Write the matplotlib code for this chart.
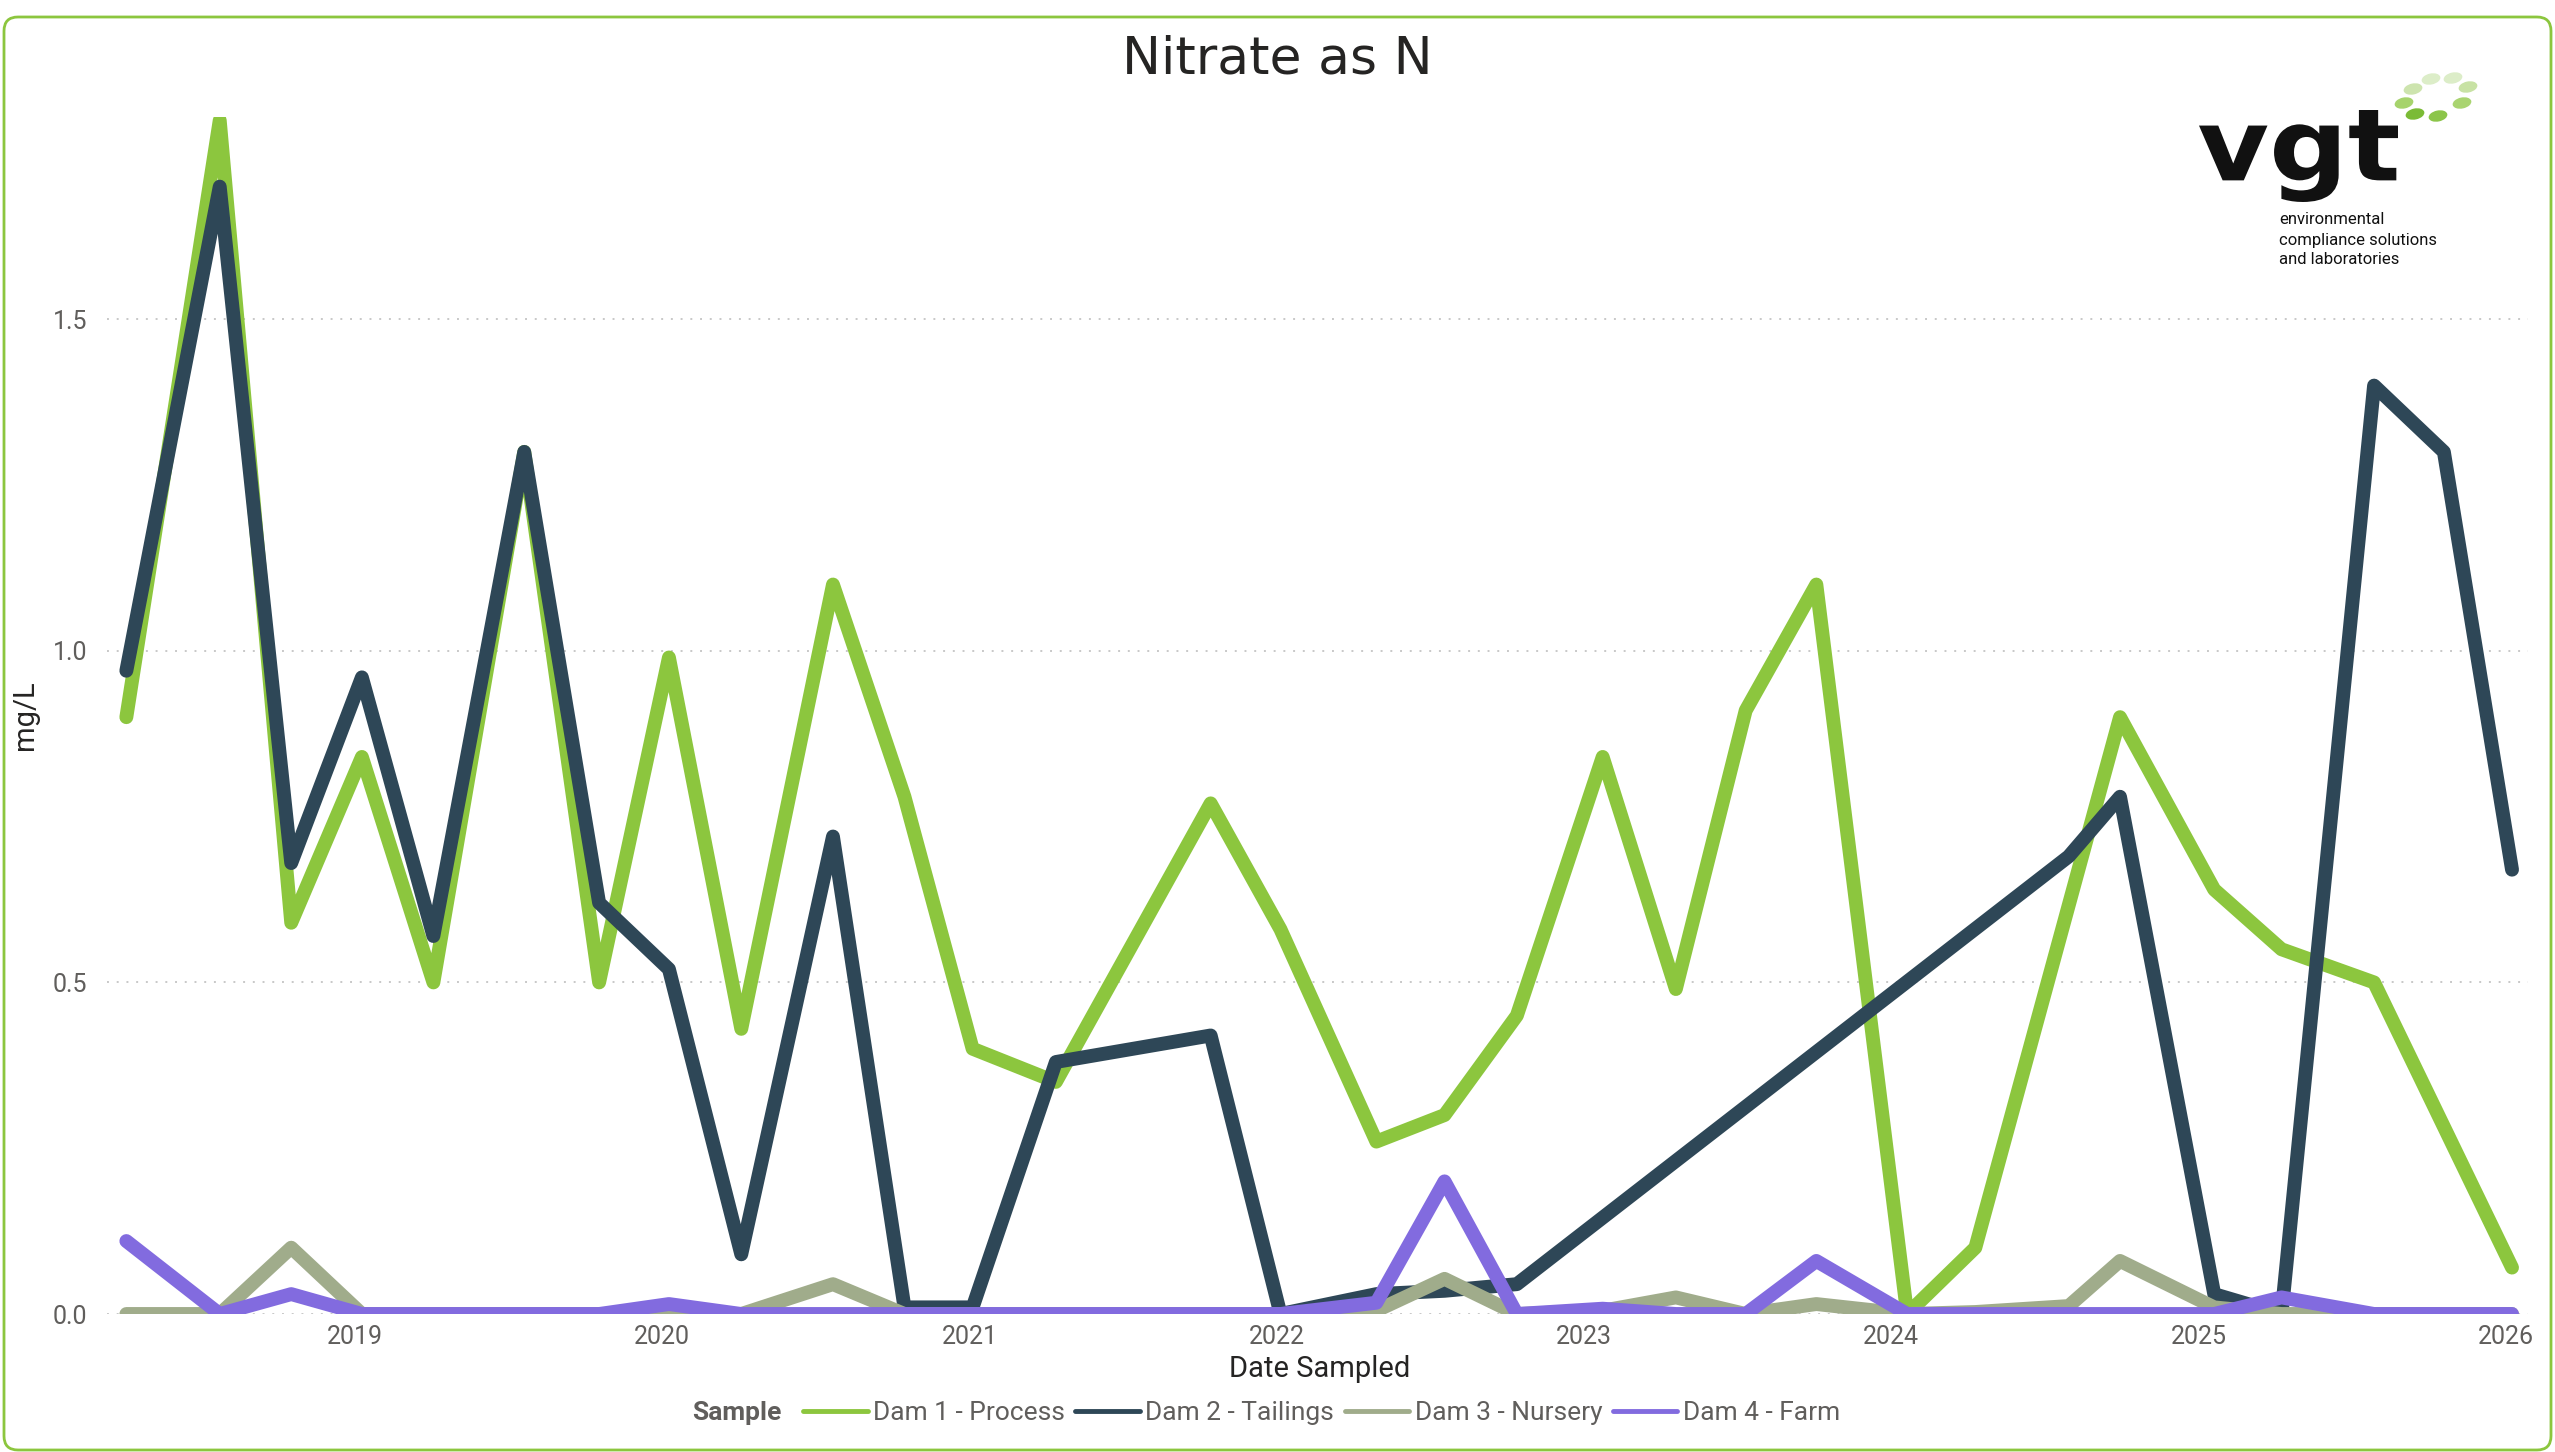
"""
Nitrate as N - dam sampling chart (recreated)
"""

import matplotlib
matplotlib.use('Agg')
import matplotlib.pyplot as plt
import matplotlib.dates as mdates
import pandas as pd
from matplotlib.patches import FancyBboxPatch, Ellipse, PathPatch
from matplotlib.textpath import TextPath
from matplotlib.transforms import Affine2D
from matplotlib.font_manager import FontProperties

# data
dam1_dates = ['2018-04-04', '2018-07-24', '2018-10-17', '2019-01-09', '2019-04-04', '2019-07-21',
              '2019-10-18', '2020-01-09', '2020-04-04', '2020-07-22', '2020-10-15', '2021-01-04',
              '2021-04-13', '2021-10-14', '2022-01-05', '2022-04-29', '2022-07-19', '2022-10-13',
              '2023-01-23', '2023-04-20', '2023-07-12', '2023-10-04', '2024-01-20', '2024-04-10',
              '2024-09-29', '2025-01-19', '2025-04-09', '2025-07-28', '2026-01-08']
dam1_vals = [0.90, 1.80, 0.59, 0.84, 0.50, 1.30, 0.50, 0.99, 0.43, 1.10, 0.78, 0.40,
             0.35, 0.77, 0.58, 0.26, 0.30, 0.45, 0.84, 0.49, 0.91, 1.10, 0.00, 0.10,
             0.90, 0.64, 0.55, 0.50, 0.07]

dam2_dates = ['2018-04-04', '2018-07-24', '2018-10-17', '2019-01-09', '2019-04-04', '2019-07-21',
              '2019-10-18', '2020-01-09', '2020-04-04', '2020-07-22', '2020-10-15', '2021-01-04',
              '2021-04-13', '2021-10-14', '2022-01-05', '2022-04-29', '2022-07-19', '2022-10-13',
              '2024-07-30', '2024-09-29', '2025-01-19', '2025-04-09', '2025-07-28', '2025-10-19',
              '2026-01-08']
dam2_vals = [0.97, 1.70, 0.68, 0.96, 0.57, 1.30, 0.62, 0.52, 0.09, 0.72, 0.01, 0.01,
             0.38, 0.42, 0.00, 0.03, 0.035, 0.045, 0.69, 0.78, 0.03, 0.00, 1.40, 1.30,
             0.67]

dam34_dates = ['2018-04-04', '2018-07-24', '2018-10-17', '2019-01-09', '2019-04-04', '2019-07-21',
               '2019-10-18', '2020-01-09', '2020-04-04', '2020-07-22', '2020-10-15', '2021-01-04',
               '2021-04-13', '2021-10-14', '2022-01-05', '2022-04-29', '2022-07-19', '2022-10-13',
               '2023-01-23', '2023-04-20', '2023-07-12', '2023-10-04', '2024-01-20', '2024-04-10',
               '2024-07-30', '2024-09-29', '2025-01-19', '2025-04-09', '2025-07-28', '2026-01-08']
dam3_vals = [0.0, 0.0, 0.10, 0.0, 0.0, 0.0, 0.0, 0.0, 0.0, 0.045, 0.0, 0.0,
             0.0, 0.0, 0.0, 0.005, 0.053, 0.0, 0.005, 0.025, 0.0, 0.015, 0.0, 0.003,
             0.012, 0.08, 0.01, 0.0, 0.0, 0.0]
dam4_vals = [0.11, 0.0, 0.03, 0.0, 0.0, 0.0, 0.0, 0.015, 0.0, 0.0, 0.0, 0.0,
             0.0, 0.0, 0.0, 0.017, 0.20, 0.0, 0.008, 0.0, 0.0, 0.08, 0.0, 0.0,
             0.0, 0.0, 0.0, 0.025, 0.0, 0.0]

series_names = ['Dam 1 - Process', 'Dam 2 - Tailings', 'Dam 3 - Nursery', 'Dam 4 - Farm']
series_colors = ['#8CC63E', '#2E4757', '#A0AC8B', '#826BDF']
yticks = [0.0, 0.5, 1.0, 1.5]

W, H = 2555, 1452
fig = plt.figure(figsize=(W / 100, H / 100), dpi=100)

# background overlay in pixel coords: rounded green border + logo
ov = fig.add_axes([0, 0, 1, 1], zorder=-1)
ov.set_xlim(0, W)
ov.set_ylim(H, 0)
ov.axis('off')
ov.add_patch(FancyBboxPatch((4, 17), W - 8, H - 19, boxstyle='round,pad=0,rounding_size=14',
                            fc='white', ec='#8CC63E', lw=2))

tp = TextPath((0, 0), 'vgt', size=100, prop=FontProperties(family='DejaVu Sans', weight='bold'))
ext = tp.get_extents()
tr = Affine2D().translate(-ext.x0, -ext.y1).scale(199 / ext.width, -92 / ext.height).translate(2199, 110)
ov.add_patch(PathPatch(tr.transform_path(tp), fc='#111111', lw=0))

dots = [(2404, 103, '#A6D36C'), (2413, 89, '#CDE4AE'), (2431, 79, '#DCEDC8'),
        (2453, 78, '#DCEDC8'), (2468, 87, '#C8E2A4'), (2462, 103, '#A9D470'),
        (2438, 116, '#8CC54A'), (2415, 114, '#7BBB36')]
for x, y, c in dots:
    ov.add_patch(Ellipse((x, y), 19, 11, angle=-12, fc=c, lw=0))

narrow = ['Liberation Sans Narrow', 'Roboto']
for i, line in enumerate(['environmental', 'compliance solutions', 'and laboratories']):
    ov.text(2279, 220 + 20 * i, line, ha='left', va='center', fontsize=12,
            color='#111111', family=narrow)

# main plot area (transparent so the logo shows through)
ax = fig.add_axes([107 / W, 1 - 1314 / H, (2528 - 107) / W, (1314 - 117) / H])
ax.patch.set_alpha(0)
all_series = [(dam1_dates, dam1_vals), (dam2_dates, dam2_vals),
              (dam34_dates, dam3_vals), (dam34_dates, dam4_vals)]
for (d, v), name, col in zip(all_series, series_names, series_colors):
    ax.plot(pd.to_datetime(d), v, color=col, lw=10, label=name,
            solid_capstyle='round', solid_joinstyle='round')

ax.set_ylim(0, 1.805)
ax.set_xlim(pd.Timestamp('2018-03-12'), pd.Timestamp('2026-01-27'))
ax.set_yticks(yticks)
ax.yaxis.set_major_formatter(plt.FormatStrFormatter('%.1f'))
ax.xaxis.set_major_locator(mdates.YearLocator())
ax.xaxis.set_major_formatter(mdates.DateFormatter('%Y'))
ax.grid(axis='y', color='#C8C8C8', lw=1.4, linestyle=(0, (1, 4)))
ax.set_axisbelow(True)
for s in ax.spines.values():
    s.set_visible(False)
ax.tick_params(length=0, labelsize=18, labelcolor='#605E5C')
ax.tick_params(axis='y', pad=14)
ax.tick_params(axis='x', pad=8)
for lbl in ax.get_xticklabels() + ax.get_yticklabels():
    lbl.set_family('Roboto')

fig.text(0.5, 1 - 60 / H, 'Nitrate as N', ha='center', va='center', fontsize=37.5,
         color='#252423', family='DejaVu Sans')
fig.text(1320 / W, 1 - 1369 / H, 'Date Sampled', ha='center', va='center', fontsize=21,
         color='#252423', family=narrow)
fig.text(25 / W, 1 - 715 / H, 'mg/L', ha='center', va='center', rotation=90, fontsize=21,
         color='#252423', family=narrow)

# legend with inline title
fig.text(692 / W, 1 - 1413 / H, 'Sample', ha='left', va='center', fontsize=19,
         fontweight='bold', color='#605E5C', family='Roboto')
handles, labels = ax.get_legend_handles_labels()
leg = fig.legend(handles, labels, loc='center left', bbox_to_anchor=(803 / W, 1 - 1413 / H),
                 ncol=4, frameon=False, borderpad=0, borderaxespad=0, handlelength=2.45,
                 handletextpad=0.2, columnspacing=0.4, prop={'family': 'Roboto', 'size': 19})
for t in leg.get_texts():
    t.set_color('#605E5C')
for h in leg.legend_handles:
    h.set_linewidth(3.5)
    h.set_solid_capstyle('round')

fig.savefig('out.png', dpi=100)
